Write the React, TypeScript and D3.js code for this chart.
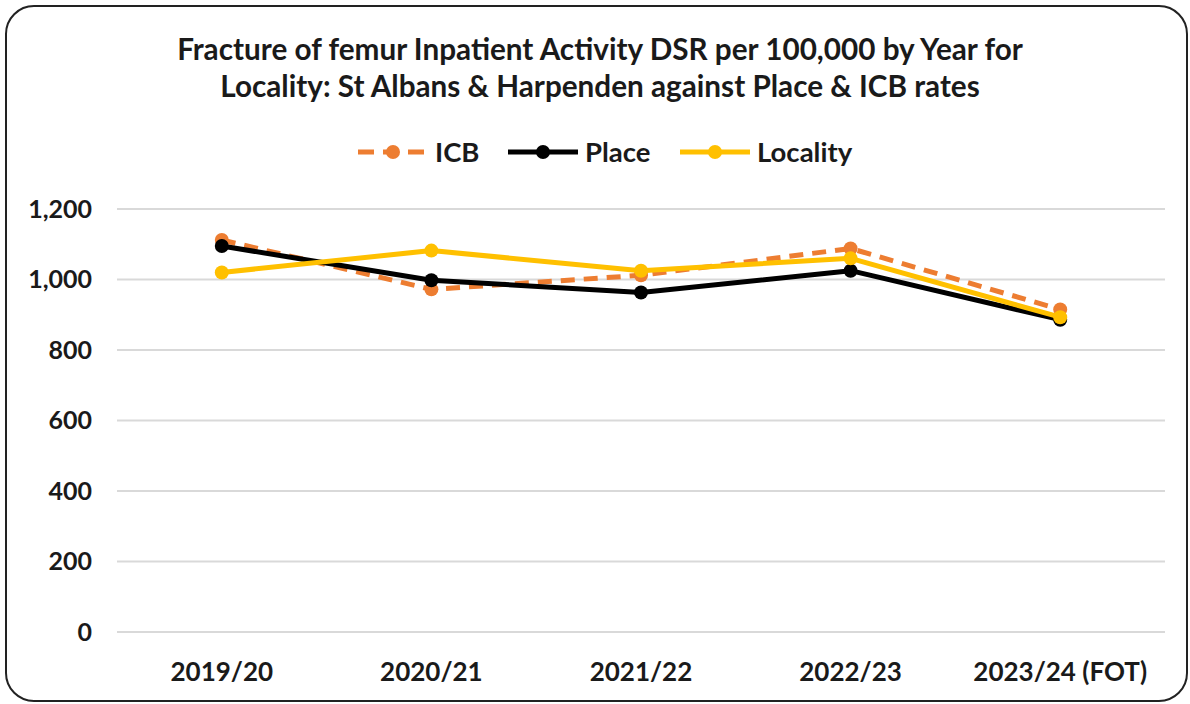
import React, { useEffect, useRef } from "react";
import * as d3 from "d3";

const years = ["2019/20", "2020/21", "2021/22", "2022/23", "2023/24 (FOT)"];
const icbValues = [1112, 972, 1012, 1088, 915];
const placeValues = [1095, 998, 963, 1025, 886];
const localityValues = [1020, 1082, 1025, 1060, 893];
const yTicks = [0, 200, 400, 600, 800, 1000, 1200];

const titleLines = [
  "Fracture of femur Inpatient Activity DSR per 100,000 by Year for",
  "Locality: St Albans & Harpenden against Place & ICB rates",
];

const series = [
  { name: "ICB", values: icbValues, color: "#ED7D31", dash: "14,9" },
  { name: "Place", values: placeValues, color: "#000000", dash: null },
  { name: "Locality", values: localityValues, color: "#FFC000", dash: null },
];

const App = () => {
  const svgRef = useRef<SVGSVGElement | null>(null);

  useEffect(() => {
    const width = 1190;
    const height = 704;
    const margin = { top: 209, right: 25, bottom: 72, left: 117 };
    const font = "Lato, sans-serif";

    const svg = d3.select(svgRef.current).attr("width", width).attr("height", height);
    svg.selectAll("*").remove();

    svg
      .append("rect")
      .attr("x", 6)
      .attr("y", 6)
      .attr("width", 1181)
      .attr("height", 695)
      .attr("rx", 28)
      .attr("fill", "white")
      .attr("stroke", "#222")
      .attr("stroke-width", 2);

    const x = d3
      .scaleBand()
      .domain(years)
      .range([margin.left, width - margin.right]);

    const y = d3
      .scaleLinear()
      .domain([0, 1200])
      .range([height - margin.bottom, margin.top]);

    // gridlines
    svg
      .append("g")
      .selectAll("line")
      .data(yTicks)
      .enter()
      .append("line")
      .attr("x1", margin.left)
      .attr("x2", width - margin.right)
      .attr("y1", (d) => y(d))
      .attr("y2", (d) => y(d))
      .attr("stroke", "#d9d9d9")
      .attr("stroke-width", 2);

    // y tick labels
    svg
      .append("g")
      .selectAll("text")
      .data(yTicks)
      .enter()
      .append("text")
      .attr("x", 92)
      .attr("y", (d) => y(d))
      .attr("dy", "0.35em")
      .attr("text-anchor", "end")
      .attr("font-family", font)
      .attr("font-weight", "bold")
      .attr("font-size", 25)
      .attr("fill", "#1a1a1a")
      .text((d) => d3.format(",")(d));

    // x labels
    svg
      .append("g")
      .selectAll("text")
      .data(years)
      .enter()
      .append("text")
      .attr("x", (d) => (x(d) || 0) + x.bandwidth() / 2)
      .attr("y", 672)
      .attr("dy", "0.35em")
      .attr("text-anchor", "middle")
      .attr("font-family", font)
      .attr("font-weight", "bold")
      .attr("font-size", 26)
      .attr("fill", "#1a1a1a")
      .text((d) => d);

    // title
    svg
      .append("g")
      .selectAll("text")
      .data(titleLines)
      .enter()
      .append("text")
      .attr("x", 600)
      .attr("y", (d, i) => 50 + i * 37)
      .attr("dy", "0.35em")
      .attr("text-anchor", "middle")
      .attr("font-family", font)
      .attr("font-weight", "bold")
      .attr("font-size", 29.7)
      .attr("fill", "#1a1a1a")
      .text((d) => d);

    const line = d3
      .line<number>()
      .x((d, i) => (x(years[i]) || 0) + x.bandwidth() / 2)
      .y((d) => y(d));

    series.forEach((s) => {
      const g = svg.append("g");
      g.append("path")
        .datum(s.values)
        .attr("d", line)
        .attr("fill", "none")
        .attr("stroke", s.color)
        .attr("stroke-width", 5)
        .attr("stroke-dasharray", s.dash)
        .attr("stroke-linejoin", "round");
      g.selectAll("circle")
        .data(s.values)
        .enter()
        .append("circle")
        .attr("cx", (d, i) => (x(years[i]) || 0) + x.bandwidth() / 2)
        .attr("cy", (d) => y(d))
        .attr("r", 7)
        .attr("fill", s.color);
    });

    // legend
    const legendX = [358, 508, 680];
    series.forEach((s, i) => {
      const g = svg.append("g").attr("transform", `translate(${legendX[i]},152)`);
      g.append("line")
        .attr("x1", 0)
        .attr("x2", 70)
        .attr("stroke", s.color)
        .attr("stroke-width", 5)
        .attr("stroke-dasharray", s.dash ? "16,9" : null);
      g.append("circle").attr("cx", 35).attr("r", 7).attr("fill", s.color);
      g.append("text")
        .attr("x", 77)
        .attr("dy", "0.35em")
        .attr("font-family", font)
        .attr("font-weight", "bold")
        .attr("font-size", 27.5)
        .attr("fill", "#1a1a1a")
        .text(s.name);
    });
  }, []);

  return (
    <div style={{ position: "absolute", left: 0, top: 0 }}>
      <svg ref={svgRef}></svg>
    </div>
  );
};

export default App;
